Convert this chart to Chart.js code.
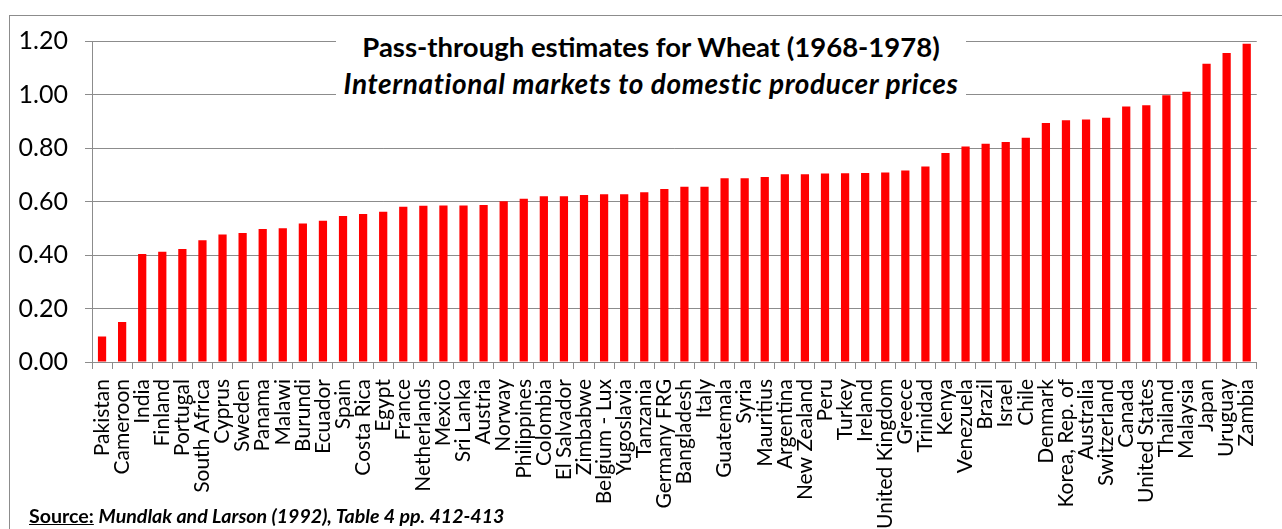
<!DOCTYPE html>
<html>
<head>
<meta charset="utf-8">
<script src="https://cdn.jsdelivr.net/npm/chart.js@4"></script>
<style>
  html, body { margin: 0; padding: 0; background: #fff; overflow: hidden; }
  #frame { position: absolute; left: 9px; top: 15px; width: 1300px; height: 540px; border: 1px solid #8c8c8c; }
  #wrap { position: absolute; left: 0; top: 0; width: 1282px; height: 529px; }
  .title { position: absolute; left: 336px; width: 630px; text-align: center; background: #fff;
           font-family: Lato, sans-serif; font-weight: bold; line-height: 36px; color: #000; white-space: nowrap; }
  #t1 { top: 29px; font-size: 27.5px; }
  #t2 { top: 65px; font-size: 28px; font-style: italic; letter-spacing: 0.6px; }
  #source { position: absolute; left: 29px; top: 504px; font-family: Lato, sans-serif; font-weight: bold;
            font-size: 19.6px; color: #000; white-space: nowrap; }
  #source u { font-style: normal; }
  #source i { font-style: italic; }
</style>
</head>
<body>
<div id="frame"></div>
<div id="wrap"><canvas id="chart"></canvas></div>
<div class="title" id="t1">Pass-through estimates for Wheat (1968-1978)</div>
<div class="title" id="t2">International markets to domestic producer prices</div>
<div id="source"><u>Source:</u> <i>Mundlak and Larson (1992), Table 4 pp. 412-413</i></div>
<script>
const countries = ['Pakistan', 'Cameroon', 'India', 'Finland', 'Portugal', 'South Africa', 'Cyprus', 'Sweden',
    'Panama', 'Malawi', 'Burundi', 'Ecuador', 'Spain', 'Costa Rica', 'Egypt', 'France', 'Netherlands', 'Mexico',
    'Sri Lanka', 'Austria', 'Norway', 'Philippines', 'Colombia', 'El Salvador', 'Zimbabwe', 'Belgium - Lux',
    'Yugoslavia', 'Tanzania', 'Germany FRG', 'Bangladesh', 'Italy', 'Guatemala', 'Syria', 'Mauritius',
    'Argentina', 'New Zealand', 'Peru', 'Turkey', 'Ireland', 'United Kingdom', 'Greece', 'Trinidad', 'Kenya',
    'Venezuela', 'Brazil', 'Israel', 'Chile', 'Denmark', 'Korea, Rep. of', 'Australia', 'Switzerland', 'Canada',
    'United States', 'Thailand', 'Malaysia', 'Japan', 'Uruguay', 'Zambia'];

const passThrough = [0.095, 0.15, 0.404, 0.412, 0.422, 0.455, 0.477, 0.482,
    0.497, 0.50, 0.518, 0.528, 0.546, 0.553, 0.562, 0.58, 0.584, 0.585,
    0.585, 0.587, 0.601, 0.61, 0.62, 0.62, 0.624, 0.627,
    0.627, 0.635, 0.647, 0.655, 0.655, 0.687, 0.687, 0.692,
    0.702, 0.702, 0.705, 0.706, 0.707, 0.708, 0.716, 0.731, 0.781,
    0.806, 0.816, 0.822, 0.838, 0.893, 0.904, 0.907, 0.913, 0.955,
    0.96, 0.997, 1.01, 1.115, 1.155, 1.19];

const yMin = 0;
const yMax = 1.2;
const yStep = 0.2;

const axisGray = '#8c8c8c';

new Chart(document.getElementById('chart'), {
    type: 'bar',
    data: {
        labels: countries,
        datasets: [{
            data: passThrough,
            backgroundColor: '#ff0000',
            barPercentage: 0.41,
            categoryPercentage: 1
        }]
    },
    options: {
        responsive: true,
        maintainAspectRatio: false,
        animation: false,
        layout: { padding: { top: 41, right: 10, left: 0, bottom: 0 } },
        plugins: { legend: { display: false }, tooltip: { enabled: false } },
        scales: {
            x: {
                grid: { offset: true, drawOnChartArea: false, drawTicks: true, tickLength: 7, color: axisGray },
                border: { color: axisGray },
                ticks: {
                    autoSkip: false, minRotation: 90, maxRotation: 90, padding: 10,
                    font: { family: 'Lato', size: 21 }, color: '#000'
                },
                afterFit: s => { s.height = 167; }
            },
            y: {
                min: yMin, max: yMax,
                grid: { color: axisGray, tickLength: 7 },
                border: { color: axisGray },
                ticks: {
                    stepSize: yStep, padding: 17,
                    font: { family: 'Lato', size: 25 }, color: '#000',
                    callback: v => Number(v).toFixed(2)
                },
                afterFit: s => { s.width = 92; }
            }
        }
    }
});
</script>
</body>
</html>
